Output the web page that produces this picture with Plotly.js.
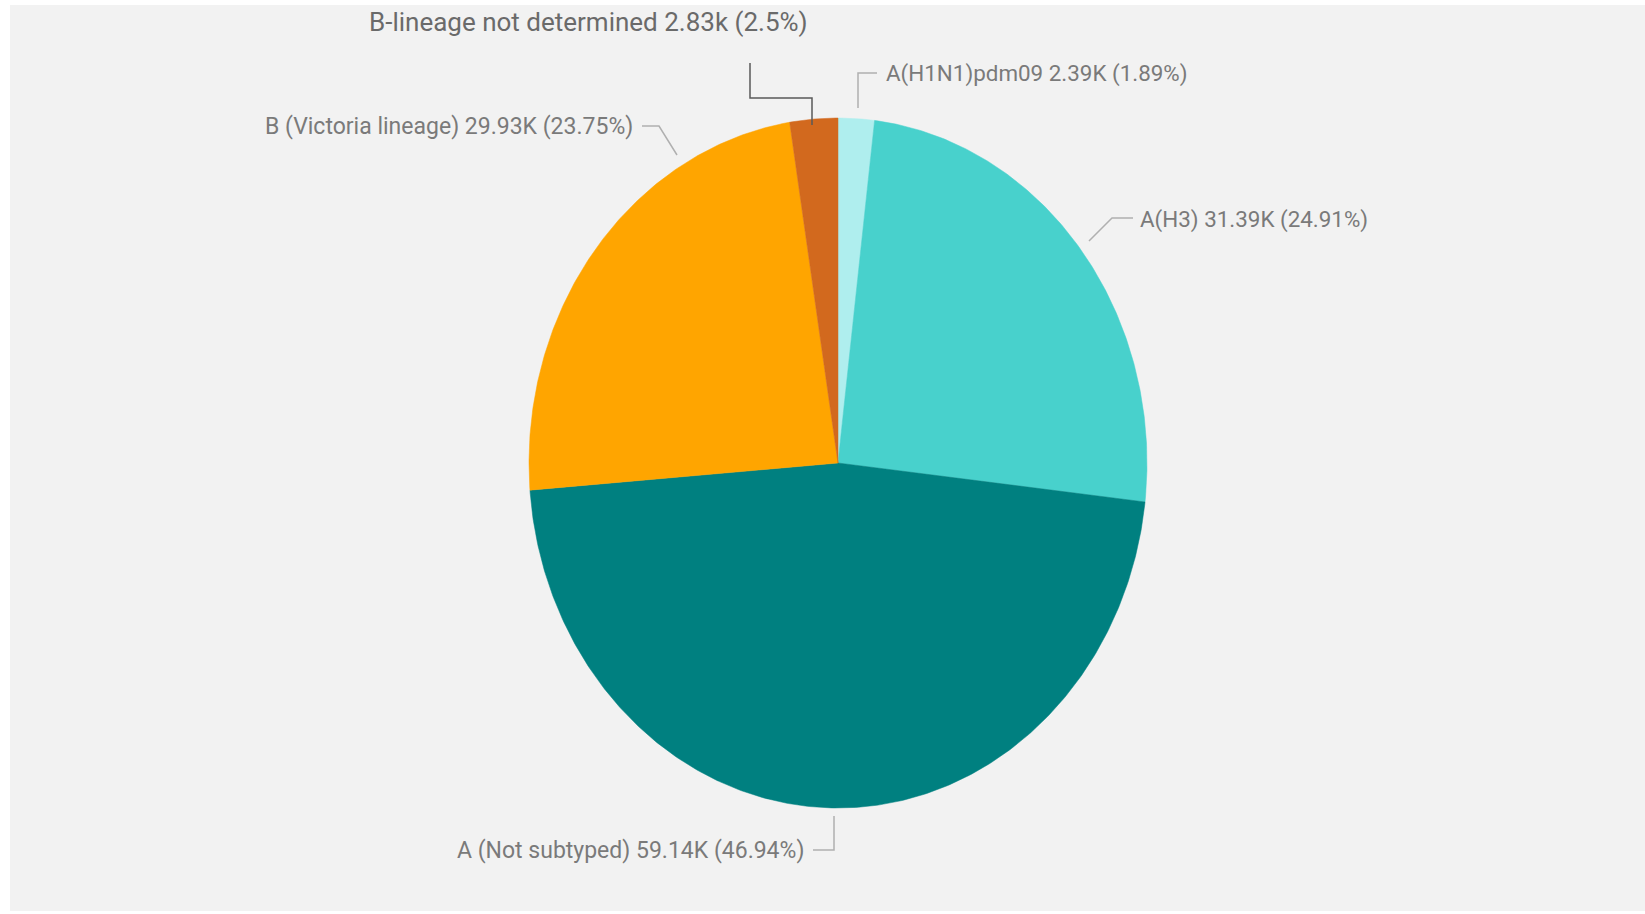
<!DOCTYPE html>
<html>
<head>
<meta charset="utf-8">
<script src="https://cdn.plot.ly/plotly-3.0.1.min.js"></script>
<style>
  html, body { margin: 0; padding: 0; background: #ffffff; }
  #chart { width: 1645px; height: 914px; }
</style>
</head>
<body>
<div id="chart"></div>
<script>
// ---- data ----
const labels = ["A(H1N1)pdm09", "A(H3)", "A (Not subtyped)", "B (Victoria lineage)", "B-lineage not determined"];
const countText = ["2.39K", "31.39K", "59.14K", "29.93K", "2.83k"];
const shares = [1.89, 24.91, 46.94, 23.75, 2.5];

// ---- style ----
const colors = ["paleturquoise", "mediumturquoise", "teal", "orange", "chocolate"];
const labelSizes = [22.4, 22.4, 23, 23, 26];
const CX = 838, CY = 463, RX = 309, RY = 345;   // pie centre / radii in pixel-mapped axis units

const total = shares.reduce((a, b) => a + b, 0);
const traces = [];
let cum = 0;
shares.forEach((v, i) => {
  const a0 = cum / total * 2 * Math.PI;
  cum += v;
  const a1 = cum / total * 2 * Math.PI;
  const xs = [CX], ys = [CY];
  const steps = Math.max(4, Math.ceil((a1 - a0) / (Math.PI / 360)));
  for (let k = 0; k <= steps; k++) {
    const a = a0 + (a1 - a0) * k / steps;
    xs.push(CX + RX * Math.sin(a));
    ys.push(CY - RY * Math.cos(a));
  }
  xs.push(CX); ys.push(CY);
  traces.push({
    type: "scatter", mode: "lines", x: xs, y: ys,
    fill: "toself", fillcolor: colors[i],
    line: { width: 0.5, color: colors[i] },
    hoverinfo: "text", text: labels[i], name: labels[i]
  });
});

const labelText = labels.map((l, i) => `${l} ${countText[i]} (${shares[i]}%)`);

// label placement (layout only)
const place = [
  { x: 884, y: 73, xanchor: "left" },
  { x: 1138, y: 219, xanchor: "left" },
  { x: 806, y: 850, xanchor: "right" },
  { x: 635, y: 126, xanchor: "right" },
  { x: 588, y: 22, xanchor: "center" }
];
const annotations = labelText.map((t, i) => ({
  x: place[i].x, y: place[i].y, xref: "x", yref: "y",
  xanchor: place[i].xanchor, yanchor: "middle",
  text: t, showarrow: false,
  font: { family: "Roboto, 'DejaVu Sans Condensed', sans-serif",
          size: labelSizes[i], color: i === 4 ? "#6a6a6a" : "#7a7a7a" }
}));

const leaderPaths = [
  { p: "M877,73 H858 V108", c: "#b0b0b0" },
  { p: "M1133,218 H1112 L1089,241", c: "#b0b0b0" },
  { p: "M813,850 H834 V816", c: "#b0b0b0" },
  { p: "M642,126 H659 L677,155", c: "#b0b0b0" },
  { p: "M750,63 V98 H812 V125", c: "#5a5a5a" }
];

const shapes = [
  { type: "rect", xref: "x", yref: "y", x0: 10, x1: 1645, y0: 5, y1: 911,
    fillcolor: "#f2f2f2", line: { width: 0 }, layer: "below" }
].concat(leaderPaths.map(l => ({
  type: "path", xref: "x", yref: "y", path: l.p,
  line: { color: l.c, width: 1.5 }, layer: "above"
})));

const layout = {
  width: 1645, height: 914,
  margin: { l: 0, r: 0, t: 0, b: 0 },
  paper_bgcolor: "#ffffff", plot_bgcolor: "rgba(0,0,0,0)",
  showlegend: false,
  xaxis: { range: [0, 1645], visible: false, fixedrange: true },
  yaxis: { range: [914, 0], visible: false, fixedrange: true },
  shapes: shapes,
  annotations: annotations,
  hovermode: "closest"
};

Plotly.newPlot("chart", traces, layout, { displayModeBar: false, staticPlot: true });
</script>
</body>
</html>
